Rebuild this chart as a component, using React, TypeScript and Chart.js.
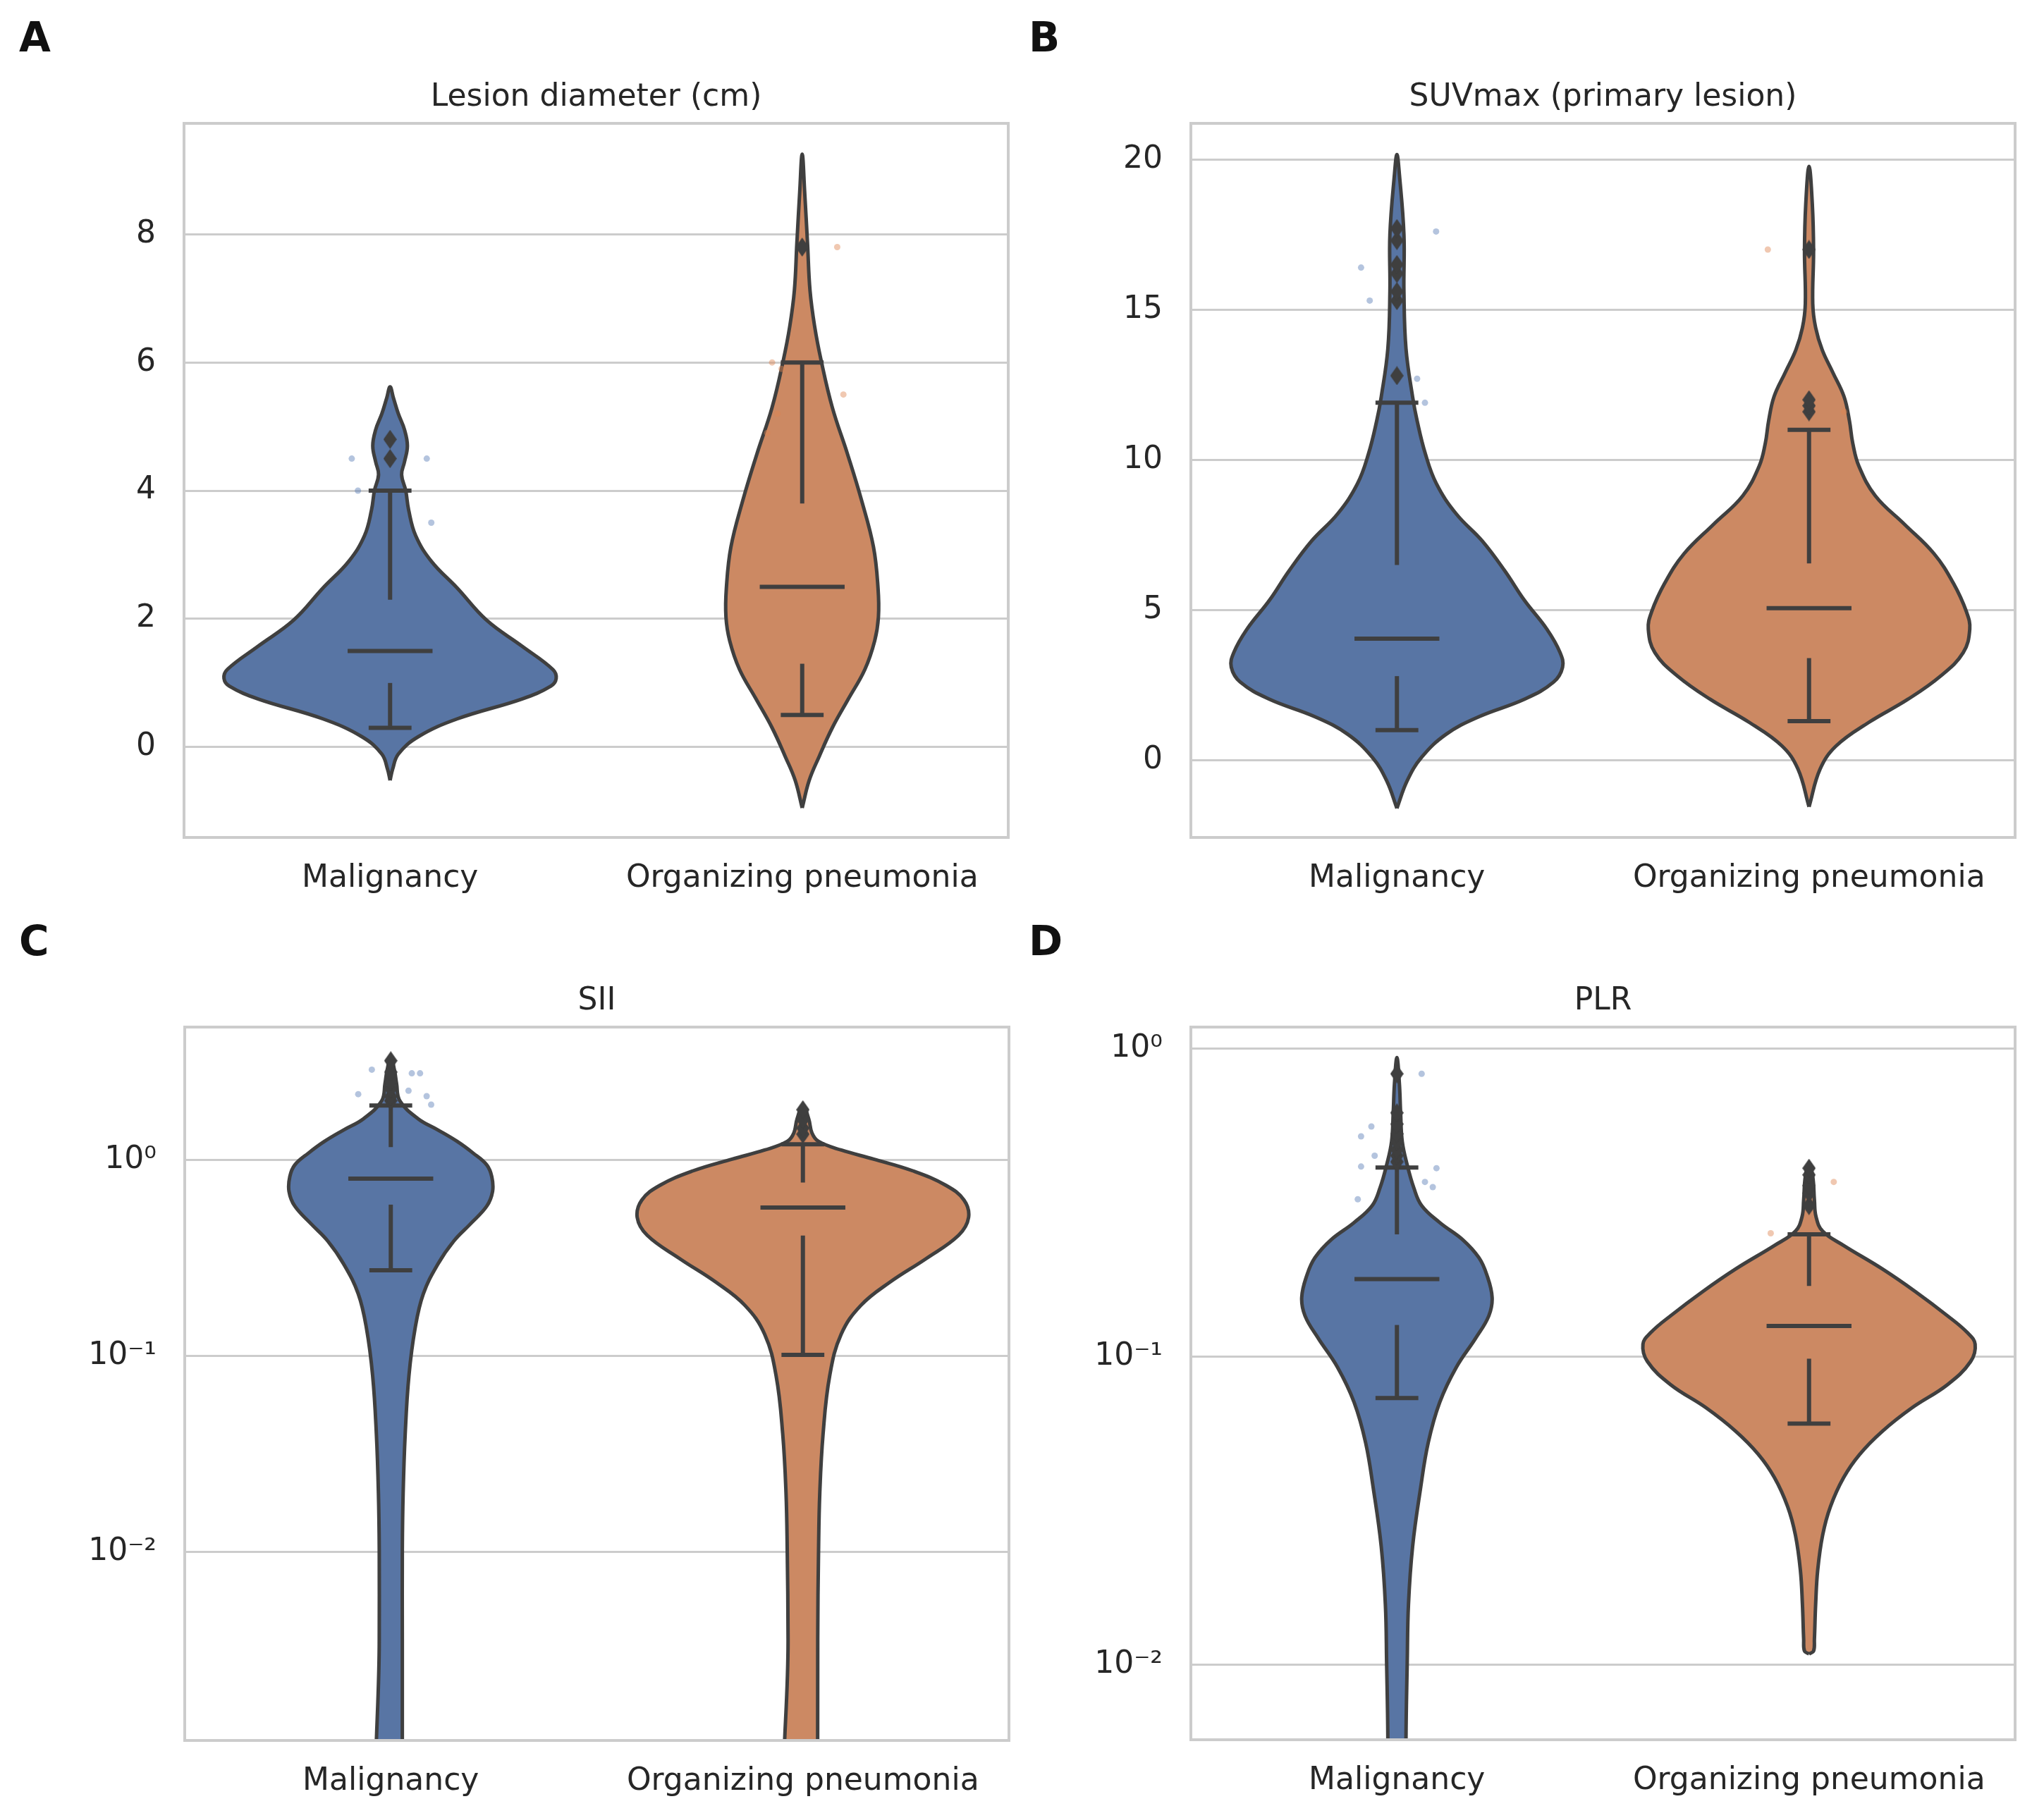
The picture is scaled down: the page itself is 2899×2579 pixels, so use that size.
import React, { useEffect, useRef } from "react";
import { Chart, registerables } from "chart.js";

Chart.register(...registerables);

// ---------------- data ----------------
const categories = ["Malignancy", "Organizing pneumonia"];

// Panel A: Lesion diameter (cm)
const aYTicks = [0, 2, 4, 6, 8];
const aMalLevels = [-0.52, -0.35, -0.11, 0.16, 0.44, 0.75, 0.95, 1.07, 1.21, 1.57, 1.98, 2.48, 2.9, 3.3, 3.7, 4.0, 4.25, 4.45, 4.7, 4.95, 5.2, 5.45, 5.62];
const aMalWidths = [0, 0.006, 0.02, 0.068, 0.163, 0.32, 0.39, 0.403, 0.395, 0.321, 0.234, 0.163, 0.1, 0.062, 0.045, 0.038, 0.028, 0.035, 0.042, 0.035, 0.02, 0.008, 0];
const aMalBox = [0.3, 1.0, 1.5, 2.3, 4.0];
const aMalFliers = [4.5, 4.8];
const aMalStrip = [4.5, 4.5, 4.0, 3.5];
const aMalJitter = [-0.093, 0.089, -0.078, 0.1];
const aOpLevels = [-0.95, -0.52, -0.15, 0.3, 0.75, 1.21, 1.66, 2.03, 2.48, 3.12, 3.85, 4.57, 5.3, 6.03, 6.57, 7.12, 7.85, 8.66, 9.25];
const aOpWidths = [0, 0.017, 0.041, 0.073, 0.112, 0.152, 0.176, 0.185, 0.184, 0.173, 0.144, 0.11, 0.073, 0.046, 0.03, 0.019, 0.013, 0.006, 0];
const aOpBox = [0.5, 1.3, 2.5, 3.8, 6.0];
const aOpFliers = [7.8];
const aOpStrip = [7.8, 6.0, 5.9, 5.5, 5.2, 4.9];
const aOpJitter = [0.085, -0.073, -0.05, 0.1, -0.06, -0.085];

// Panel B: SUVmax (primary lesion)
const bYTicks = [0, 5, 10, 15, 20];
const bMalLevels = [-1.6, -0.68, 0.1, 0.87, 1.45, 2.03, 2.6, 3.1, 3.58, 4.36, 5.33, 6.3, 7.3, 8.2, 9.2, 10.2, 11.3, 12.1, 13.7, 15.6, 17.5, 19.5, 20.16];
const bMalWidths = [0, 0.025, 0.06, 0.12, 0.199, 0.309, 0.38, 0.402, 0.396, 0.364, 0.309, 0.262, 0.207, 0.144, 0.096, 0.069, 0.049, 0.038, 0.022, 0.017, 0.017, 0.006, 0];
const bMalBox = [1.0, 2.8, 4.05, 6.5, 11.9];
const bMalFliers = [12.8, 15.3, 15.6, 16.2, 16.5, 17.3, 17.7];
const bMalStrip = [17.6, 16.4, 15.3, 12.7, 11.9];
const bMalJitter = [0.095, -0.087, -0.066, 0.049, 0.068];
const bOpLevels = [-1.55, -0.29, 0.48, 1.26, 2.03, 2.8, 3.58, 4.36, 4.94, 5.9, 6.88, 7.85, 8.8, 9.79, 10.56, 11.3, 12.1, 12.9, 13.66, 14.4, 15.2, 16.96, 18.5, 19.77];
const bOpWidths = [0, 0.027, 0.066, 0.145, 0.24, 0.319, 0.374, 0.39, 0.382, 0.35, 0.303, 0.232, 0.161, 0.121, 0.106, 0.098, 0.085, 0.058, 0.032, 0.016, 0.009, 0.011, 0.008, 0];
const bOpBox = [1.3, 3.4, 5.06, 6.55, 11.0];
const bOpFliers = [11.6, 11.8, 12.0, 17.0];
const bOpStrip = [17.0, 11.6];
const bOpJitter = [-0.1, 0.085];

// Panel C: SII (log scale)
const cYTicks = [0.01, 0.1, 1];
const cMalLevels = [0.0003, 0.0036, 0.0102, 0.02, 0.04, 0.079, 0.138, 0.207, 0.293, 0.385, 0.47, 0.58, 0.69, 0.82, 0.94, 1.08, 1.24, 1.42, 1.62, 2.0, 2.45, 2.82, 3.35];
const cMalWidths = [0.028, 0.028, 0.028, 0.03, 0.035, 0.044, 0.059, 0.079, 0.114, 0.153, 0.193, 0.233, 0.247, 0.245, 0.233, 0.2, 0.161, 0.114, 0.066, 0.022, 0.014, 0.0095, 0];
const cMalBox = [0.273, 0.59, 0.8, 1.16, 1.89];
const cMalFliers = [2.0, 2.1, 2.3, 2.5, 2.8, 3.2];
const cMalStrip = [2.88, 2.76, 2.76, 2.16, 2.25, 2.11, 1.91];
const cMalJitter = [-0.046, 0.051, 0.071, -0.079, 0.043, 0.087, 0.098];
const cOpLevels = [0.0003, 0.0036, 0.0102, 0.02, 0.04, 0.079, 0.129, 0.181, 0.238, 0.313, 0.412, 0.507, 0.622, 0.74, 0.877, 1.007, 1.12, 1.24, 1.37, 1.62, 1.89];
const cOpWidths = [0.036, 0.036, 0.038, 0.041, 0.049, 0.065, 0.093, 0.141, 0.212, 0.299, 0.378, 0.402, 0.391, 0.347, 0.267, 0.172, 0.093, 0.038, 0.022, 0.014, 0];
const cOpBox = [0.101, 0.41, 0.57, 0.765, 1.2];
const cOpFliers = [1.35, 1.45, 1.6, 1.8];
const cOpStrip: number[] = [];
const cOpJitter: number[] = [];

// Panel D: PLR (log scale)
const dYTicks = [0.01, 0.1, 1];
const dMalLevels = [0.001, 0.00575, 0.0102, 0.0157, 0.0242, 0.0372, 0.0527, 0.0713, 0.0925, 0.115, 0.136, 0.156, 0.185, 0.21, 0.24, 0.273, 0.31, 0.354, 0.42, 0.5, 0.62, 0.77, 0.937];
const dMalWidths = [0.02, 0.022, 0.025, 0.028, 0.038, 0.057, 0.076, 0.104, 0.144, 0.191, 0.223, 0.231, 0.218, 0.199, 0.16, 0.104, 0.06, 0.041, 0.025, 0.013, 0.009, 0.006, 0];
const dMalBox = [0.0736, 0.127, 0.179, 0.25, 0.412];
const dMalFliers = [0.43, 0.45, 0.47, 0.5, 0.53, 0.57, 0.62, 0.83];
const dMalStrip = [0.83, 0.56, 0.52, 0.45, 0.415, 0.41, 0.37, 0.356, 0.325];
const dMalJitter = [0.06, -0.062, -0.087, -0.054, -0.087, 0.096, 0.068, 0.087, -0.095];
const dOpLevels = [0.01086, 0.0111, 0.0121, 0.0157, 0.0203, 0.0264, 0.0327, 0.0406, 0.0483, 0.0574, 0.0684, 0.0813, 0.0966, 0.11, 0.12, 0.136, 0.163, 0.193, 0.23, 0.256, 0.285, 0.324, 0.385, 0.421];
const dOpWidths = [0, 0.011, 0.013, 0.016, 0.021, 0.033, 0.052, 0.084, 0.123, 0.178, 0.25, 0.336, 0.392, 0.403, 0.384, 0.336, 0.258, 0.178, 0.084, 0.033, 0.017, 0.013, 0.009, 0];
const dOpBox = [0.0608, 0.0987, 0.126, 0.17, 0.25];
const dOpFliers = [0.31, 0.34, 0.36, 0.39, 0.41];
const dOpStrip = [0.37, 0.252];
const dOpJitter = [0.06, -0.093];

// ---------------- styles ----------------
const FONT = "'DejaVu Sans', 'Noto Sans', sans-serif";
const FONT_SIZE = 44;
const TEXT = "#262626";
const GRID = "#cccccc";
const LINE = "#3f3f3f";
const VIOLIN_FILL = ["#5875a4", "#cc8963"];
const STRIP_FILL = ["rgba(76,114,176,0.42)", "rgba(221,132,82,0.45)"];
const CAP_HALF = 0.052;
const MED_HALF = 0.103;

type Violin = {
  levels: number[];
  widths: number[];
  box: number[];
  fliers: number[];
  strip: number[];
  jitter: number[];
};

type Panel = {
  letter: string;
  title: string;
  log: boolean;
  yMin: number;
  yMax: number;
  yTicks: number[];
  violins: Violin[];
  left: number;
  top: number;
  width: number;
  height: number;
  yAxisWidth: number;
  padTop: number;
  padRight: number;
  xAxisHeight: number;
};

const panels: Panel[] = [
  {
    letter: "A", title: "Lesion diameter (cm)", log: false, yMin: -1.41, yMax: 9.73, yTicks: aYTicks,
    violins: [
      { levels: aMalLevels, widths: aMalWidths, box: aMalBox, fliers: aMalFliers, strip: aMalStrip, jitter: aMalJitter },
      { levels: aOpLevels, widths: aOpWidths, box: aOpBox, fliers: aOpFliers, strip: aOpStrip, jitter: aOpJitter },
    ],
    left: 0, top: 0, width: 1449, height: 1290, yAxisWidth: 261, padTop: 175, padRight: 19, xAxisHeight: 102,
  },
  {
    letter: "B", title: "SUVmax (primary lesion)", log: false, yMin: -2.57, yMax: 21.2, yTicks: bYTicks,
    violins: [
      { levels: bMalLevels, widths: bMalWidths, box: bMalBox, fliers: bMalFliers, strip: bMalStrip, jitter: bMalJitter },
      { levels: bOpLevels, widths: bOpWidths, box: bOpBox, fliers: bOpFliers, strip: bOpStrip, jitter: bOpJitter },
    ],
    left: 1449, top: 0, width: 1450, height: 1290, yAxisWidth: 240, padTop: 175, padRight: 41, xAxisHeight: 102,
  },
  {
    letter: "C", title: "SII", log: true, yMin: 0.00109, yMax: 4.75, yTicks: cYTicks,
    violins: [
      { levels: cMalLevels, widths: cMalWidths, box: cMalBox, fliers: cMalFliers, strip: cMalStrip, jitter: cMalJitter },
      { levels: cOpLevels, widths: cOpWidths, box: cOpBox, fliers: cOpFliers, strip: cOpStrip, jitter: cOpJitter },
    ],
    left: 0, top: 1290, width: 1449, height: 1289, yAxisWidth: 262, padTop: 167, padRight: 18, xAxisHeight: 110,
  },
  {
    letter: "D", title: "PLR", log: true, yMin: 0.00572, yMax: 1.177, yTicks: dYTicks,
    violins: [
      { levels: dMalLevels, widths: dMalWidths, box: dMalBox, fliers: dMalFliers, strip: dMalStrip, jitter: dMalJitter },
      { levels: dOpLevels, widths: dOpWidths, box: dOpBox, fliers: dOpFliers, strip: dOpStrip, jitter: dOpJitter },
    ],
    left: 1449, top: 1290, width: 1450, height: 1289, yAxisWidth: 240, padTop: 167, padRight: 41, xAxisHeight: 111,
  },
];

const SUP: Record<string, string> = { "-": "\u207B", "0": "\u2070", "1": "\u00B9", "2": "\u00B2", "3": "\u00B3" };
function logLabel(v: number): string {
  const e = Math.round(Math.log10(v));
  return "10" + String(e).split("").map((c) => SUP[c] || c).join("");
}

function makeDiamond(): HTMLCanvasElement {
  const c = document.createElement("canvas");
  c.width = 19;
  c.height = 27;
  const g = c.getContext("2d")!;
  g.fillStyle = LINE;
  g.beginPath();
  g.moveTo(9.5, 0);
  g.lineTo(19, 13.5);
  g.lineTo(9.5, 27);
  g.lineTo(0, 13.5);
  g.closePath();
  g.fill();
  return c;
}

function buildDatasets(violins: Violin[], diamond: HTMLCanvasElement): any[] {
  const ds: any[] = [];
  violins.forEach((v, c) => {
    const right = v.levels.map((y, i) => ({ x: c + v.widths[i], y }));
    const left = v.levels.map((y, i) => ({ x: c - v.widths[i], y })).reverse();
    if (v.widths[v.widths.length - 1] === 0) left.shift();
    const outline = [...right, ...left];
    if (v.widths[0] !== 0) outline.push(right[0]);
    ds.push({
      type: "line",
      data: outline,
      showLine: true,
      fill: "shape",
      backgroundColor: VIOLIN_FILL[c],
      borderColor: LINE,
      borderWidth: 5,
      borderJoinStyle: "round",
      pointRadius: 0,
      pointHoverRadius: 0,
      tension: 0.4,
      order: 3,
    });
    const [wl, q1, med, q3, wh] = v.box;
    const seg = (pts: { x: number; y: number }[]) => ({
      type: "line",
      data: pts,
      showLine: true,
      fill: false,
      borderColor: LINE,
      borderWidth: 6,
      borderCapStyle: "butt",
      pointRadius: 0,
      pointHoverRadius: 0,
      tension: 0,
      order: 2,
    });
    ds.push(seg([{ x: c, y: q3 }, { x: c, y: wh }]));
    ds.push(seg([{ x: c, y: wl }, { x: c, y: q1 }]));
    ds.push(seg([{ x: c - CAP_HALF, y: wh }, { x: c + CAP_HALF, y: wh }]));
    ds.push(seg([{ x: c - CAP_HALF, y: wl }, { x: c + CAP_HALF, y: wl }]));
    ds.push(seg([{ x: c - MED_HALF, y: med }, { x: c + MED_HALF, y: med }]));
    ds.push({
      type: "scatter",
      data: v.fliers.map((y) => ({ x: c, y })),
      pointStyle: diamond,
      pointRadius: 10,
      pointHoverRadius: 10,
      order: 1,
    });
    ds.push({
      type: "scatter",
      data: v.strip.map((y, i) => ({ x: c + v.jitter[i], y })),
      backgroundColor: STRIP_FILL[c],
      borderWidth: 0,
      pointRadius: 4.5,
      pointHoverRadius: 4.5,
      order: 0,
    });
  });
  return ds;
}

function PanelChart({ p }: { p: Panel }) {
  const ref = useRef<HTMLCanvasElement | null>(null);
  useEffect(() => {
    if (!ref.current) return;
    const diamond = makeDiamond();
    const decor = {
      id: "decor",
      afterDatasetsDraw(chart: any) {
        const { ctx, chartArea: ca } = chart;
        ctx.save();
        ctx.strokeStyle = GRID;
        ctx.lineWidth = 4;
        ctx.strokeRect(ca.left, ca.top, ca.right - ca.left, ca.bottom - ca.top);
        ctx.restore();
      },
      afterDraw(chart: any) {
        const { ctx, chartArea: ca } = chart;
        ctx.save();
        ctx.fillStyle = TEXT;
        ctx.textBaseline = "alphabetic";
        ctx.textAlign = "center";
        ctx.font = `${FONT_SIZE}px ${FONT}`;
        ctx.fillText(p.title, (ca.left + ca.right) / 2, ca.top - 25);
        ctx.textAlign = "left";
        ctx.fillStyle = "#111111";
        ctx.font = `bold 58px ${FONT}`;
        ctx.fillText(p.letter, p.left === 0 ? 27 : 10, ca.top - 102);
        ctx.restore();
      },
    };
    const chart = new Chart(ref.current, {
      type: "scatter",
      data: { datasets: buildDatasets(p.violins, diamond) },
      options: {
        animation: false,
        responsive: false,
        maintainAspectRatio: false,
        devicePixelRatio: 1,
        events: [],
        layout: { autoPadding: false, padding: { left: 0, top: p.padTop, right: p.padRight, bottom: 0 } },
        plugins: { legend: { display: false }, tooltip: { enabled: false }, title: { display: false } },
        scales: {
          x: {
            type: "linear",
            min: -0.5,
            max: 1.5,
            afterBuildTicks: (s: any) => {
              s.ticks = categories.map((_, i) => ({ value: i }));
            },
            afterFit: (s: any) => {
              s.height = p.xAxisHeight;
            },
            ticks: {
              callback: (v: any) => categories[Math.round(Number(v))] ?? "",
              font: { family: FONT, size: FONT_SIZE },
              color: TEXT,
              padding: 24,
              maxRotation: 0,
              autoSkip: false,
            },
            grid: { display: false },
            border: { display: false },
          },
          y: {
            type: p.log ? "logarithmic" : "linear",
            min: p.yMin,
            max: p.yMax,
            afterBuildTicks: (s: any) => {
              s.ticks = p.yTicks.map((value) => ({ value }));
            },
            afterFit: (s: any) => {
              s.width = p.yAxisWidth;
            },
            ticks: {
              callback: (v: any) => (p.log ? logLabel(Number(v)) : String(v)),
              font: { family: FONT, size: FONT_SIZE },
              color: TEXT,
              padding: 40,
              autoSkip: false,
            },
            grid: { color: GRID, lineWidth: 3, drawTicks: false },
            border: { display: false },
          },
        },
      } as any,
      plugins: [decor],
    });
    return () => chart.destroy();
  }, [p]);
  return (
    <canvas
      ref={ref}
      width={p.width}
      height={p.height}
      style={{ position: "absolute", left: p.left, top: p.top, width: p.width, height: p.height, display: "block" }}
    />
  );
}

export default function App() {
  return (
    <div style={{ position: "absolute", left: 0, top: 0, width: 2899, height: 2579, background: "#ffffff", overflow: "hidden" }}>
      {panels.map((p) => (
        <PanelChart key={p.letter} p={p} />
      ))}
    </div>
  );
}
